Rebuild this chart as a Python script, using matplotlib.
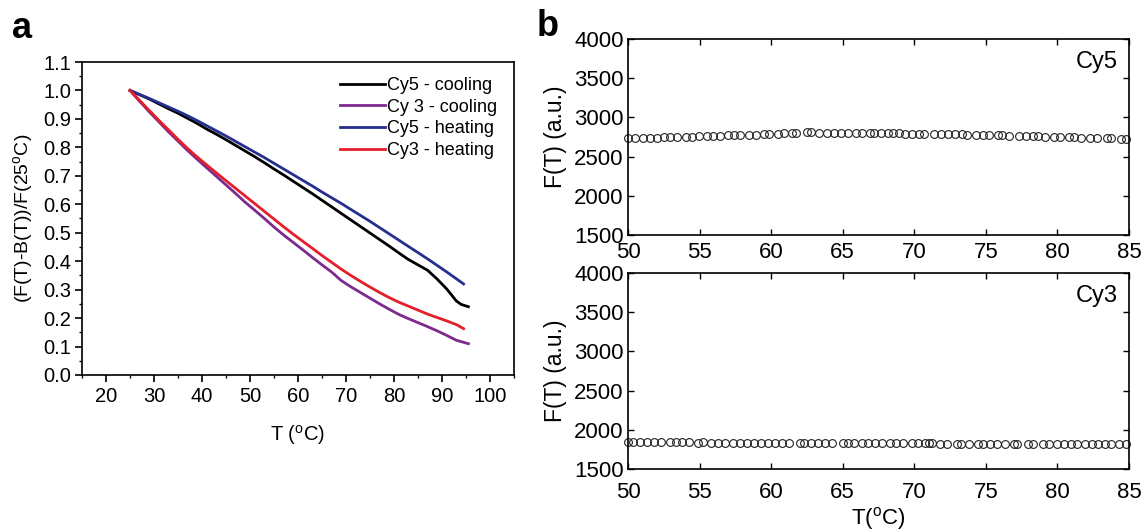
import matplotlib
matplotlib.use("Agg")
import matplotlib.pyplot as plt
from matplotlib.ticker import MultipleLocator, FormatStrFormatter

plt.rcParams['font.family'] = ['Liberation Sans', 'DejaVu Sans']
plt.rcParams['mathtext.fontset'] = 'custom'
plt.rcParams['mathtext.rm'] = 'Liberation Sans'
plt.rcParams['mathtext.it'] = 'Liberation Sans'
plt.rcParams['axes.linewidth'] = 1.2

# ---------------- Panel a data ----------------
cy5_cool_T = [25, 27, 29, 31, 33, 35, 37, 39, 41, 43, 45, 47, 49, 51, 53, 55, 57, 59, 61, 63,
              65, 67, 69, 71, 73, 75, 77, 79, 81, 83, 85, 87, 89, 91, 93, 94, 95.5]
cy5_cool = [1.0, 0.985, 0.97, 0.953, 0.936, 0.92, 0.902, 0.884, 0.864, 0.846, 0.827, 0.807,
            0.787, 0.767, 0.746, 0.724, 0.703, 0.681, 0.659, 0.637, 0.614, 0.591, 0.568, 0.545,
            0.522, 0.499, 0.476, 0.453, 0.429, 0.406, 0.387, 0.368, 0.337, 0.302, 0.26, 0.248, 0.24]

cy3_cool_T = [25, 27, 29, 31, 33, 35, 37, 39, 41, 43, 45, 47, 49, 51, 53, 55, 57, 59, 61, 63,
              65, 67, 69, 71, 73, 75, 77, 79, 81, 83, 85, 87, 89, 91, 93, 95.5]
cy3_cool = [1.0, 0.962, 0.925, 0.89, 0.855, 0.822, 0.789, 0.758, 0.728, 0.698, 0.668, 0.638,
            0.607, 0.579, 0.55, 0.52, 0.492, 0.466, 0.44, 0.413, 0.387, 0.362, 0.332, 0.31,
            0.29, 0.27, 0.25, 0.231, 0.213, 0.198, 0.184, 0.17, 0.155, 0.139, 0.122, 0.11]

cy5_heat_T = [25, 27, 29, 31, 33, 35, 37, 39, 41, 43, 45, 47, 49, 51, 53, 55, 57, 59, 61, 63,
              65, 67, 69, 71, 73, 75, 77, 79, 81, 83, 85, 87, 89, 91, 93, 94.5]
cy5_heat = [1.0, 0.986, 0.972, 0.957, 0.942, 0.927, 0.911, 0.894, 0.876, 0.858, 0.840, 0.821,
            0.802, 0.783, 0.764, 0.744, 0.724, 0.704, 0.684, 0.664, 0.643, 0.623, 0.603, 0.582,
            0.561, 0.540, 0.518, 0.496, 0.474, 0.452, 0.430, 0.408, 0.385, 0.362, 0.338, 0.32]

cy3_heat_T = [25, 27, 29, 31, 33, 35, 37, 39, 41, 43, 45, 47, 49, 51, 53, 55, 57, 59, 61, 63,
              65, 67, 69, 71, 73, 75, 77, 79, 81, 83, 85, 87, 89, 91, 93, 94.5]
cy3_heat = [1.0, 0.965, 0.93, 0.895, 0.862, 0.828, 0.796, 0.766, 0.738, 0.71, 0.683, 0.656,
            0.629, 0.602, 0.575, 0.548, 0.521, 0.495, 0.47, 0.445, 0.42, 0.396, 0.372, 0.35,
            0.329, 0.309, 0.29, 0.272, 0.256, 0.242, 0.228, 0.214, 0.202, 0.19, 0.177, 0.163]

legend_labels = ['Cy5 - cooling', 'Cy 3 - cooling', 'Cy5 - heating', 'Cy3 - heating']
xticks_a = [20, 30, 40, 50, 60, 70, 80, 90, 100]

# ---------------- Panel b data ----------------
cy5_T = [50.00, 50.49, 51.06, 51.57, 52.03, 52.52, 52.93, 53.41, 54.04, 54.50, 54.96, 55.50,
         55.96, 56.45, 57.02, 57.43, 57.80, 58.46, 58.92, 59.51, 59.84, 60.51, 60.92, 61.44,
         61.76, 62.49, 62.76, 63.36, 63.88, 64.42, 64.88, 65.39, 65.96, 66.37, 66.88, 67.21,
         67.67, 68.16, 68.48, 68.94, 69.32, 69.84, 70.33, 70.70, 71.38, 71.90, 72.36, 72.82,
         73.31, 73.71, 74.31, 74.77, 75.23, 75.83, 76.15, 76.59, 77.32, 77.83, 78.27, 78.67,
         79.13, 79.78, 80.16, 80.79, 81.14, 81.65, 82.28, 82.79, 83.47, 83.77, 84.44, 84.77]
cy5_F = [2733, 2735, 2738, 2741, 2743, 2746, 2748, 2750, 2753, 2755, 2757, 2760,
         2763, 2766, 2770, 2772, 2774, 2778, 2781, 2785, 2787, 2792, 2795, 2799,
         2801, 2810, 2808, 2806, 2805, 2805, 2804, 2803, 2802, 2801, 2800, 2799,
         2798, 2797, 2796, 2795, 2794, 2792, 2790, 2789, 2788, 2787, 2786, 2785,
         2783, 2781, 2779, 2777, 2775, 2772, 2771, 2769, 2766, 2763, 2760, 2758,
         2755, 2752, 2750, 2746, 2744, 2741, 2738, 2736, 2733, 2731, 2730, 2729]

cy3_T = [50.00, 50.38, 50.87, 51.30, 51.82, 52.30, 52.90, 53.33, 53.77, 54.25, 54.88, 55.26,
         55.83, 56.29, 56.78, 57.37, 57.83, 58.32, 58.83, 59.30, 59.81, 60.30, 60.79, 61.27,
         62.01, 62.30, 62.79, 63.28, 63.79, 64.28, 65.01, 65.34, 65.80, 66.34, 66.78, 67.26,
         67.75, 68.27, 68.75, 69.24, 69.81, 70.27, 70.76, 71.06, 71.27, 71.79, 72.28, 72.98,
         73.25, 73.79, 74.44, 74.82, 75.31, 75.80, 76.34, 76.94, 77.21, 77.94, 78.29, 78.97,
         79.43, 79.95, 80.43, 80.92, 81.36, 81.90, 82.41, 82.85, 83.33, 83.77, 84.28, 84.80]
cy3_F = [1843, 1842, 1843, 1842, 1842, 1841, 1841, 1840, 1840, 1839, 1838, 1839,
         1838, 1837, 1837, 1836, 1836, 1835, 1835, 1834, 1834, 1834, 1833, 1833,
         1832, 1832, 1831, 1831, 1831, 1830, 1830, 1830, 1829, 1829, 1829, 1828,
         1828, 1828, 1827, 1827, 1827, 1826, 1826, 1826, 1826, 1825, 1825, 1825,
         1824, 1824, 1824, 1824, 1823, 1823, 1823, 1823, 1822, 1822, 1822, 1822,
         1821, 1821, 1821, 1821, 1820, 1820, 1820, 1820, 1819, 1819, 1819, 1819]

xticks_b = [50, 55, 60, 65, 70, 75, 80, 85]
yticks_b = [1500, 2000, 2500, 3000, 3500, 4000]

fig = plt.figure(figsize=(11.48, 5.31), dpi=100)
W, H = 1148.0, 531.0

# ---------------- Panel a ----------------
axa = fig.add_axes([82 / W, 1 - 375 / H, 432 / W, 313 / H])
lw = 2.0
colors = ['black', '#7d2a8e', '#262f8f', '#e3202a']
axa.plot(cy5_cool_T, cy5_cool, color=colors[0], lw=lw, label=legend_labels[0])
axa.plot(cy3_cool_T, cy3_cool, color=colors[1], lw=lw, label=legend_labels[1])
axa.plot(cy5_heat_T, cy5_heat, color=colors[2], lw=lw, label=legend_labels[2])
axa.plot(cy3_heat_T, cy3_heat, color=colors[3], lw=lw, label=legend_labels[3])
axa.set_xlim(15, 105)
axa.set_ylim(0, 1.1)
axa.set_xticks(xticks_a)
axa.xaxis.set_minor_locator(MultipleLocator(5))
axa.yaxis.set_major_locator(MultipleLocator(0.1))
axa.yaxis.set_minor_locator(MultipleLocator(0.05))
axa.yaxis.set_major_formatter(FormatStrFormatter('%.1f'))
axa.tick_params(which='major', direction='out', length=5, width=1.2, labelsize=14.5,
                colors='black', pad=3)
axa.tick_params(which='minor', direction='out', length=2.5, width=1.0)
axa.tick_params(axis='x', which='major', pad=4)
axa.tick_params(top=False, right=False)
axa.set_xlabel('T ($^{\\mathrm{o}}$C)', fontsize=14.5, labelpad=12)
axa.set_ylabel('(F(T)-B(T))/F(25$^{\\mathrm{o}}$C)', fontsize=14, labelpad=6)
leg = axa.legend(loc='upper right', bbox_to_anchor=((497 - 82) / 432, (375 - 77) / 313),
                 frameon=False, fontsize=13, handlelength=2.5, handletextpad=0.1,
                 labelspacing=0.26, borderpad=0, borderaxespad=0)

fig.text(12 / W, 1 - 38 / H, 'a', fontsize=26, fontweight='bold', ha='left', va='baseline')

# ---------------- Panel b ----------------
def style_b(ax, xpad):
    ax.set_xlim(50, 85)
    ax.set_ylim(1500, 4000)
    ax.set_xticks(xticks_b)
    ax.set_yticks(yticks_b)
    ax.tick_params(direction='in', length=4.5, width=1.0, labelsize=16, top=True, right=True,
                   pad=3, colors='black')
    ax.tick_params(axis='x', pad=xpad)
    ax.set_ylabel('F(T) (a.u.)', fontsize=16.5, labelpad=5)
    for s in ax.spines.values():
        s.set_linewidth(1.2)

axb1 = fig.add_axes([628 / W, 1 - 235 / H, 501 / W, 196 / H])
axb1.plot(cy5_T, cy5_F, linestyle='none', marker='o', markersize=5.6, markerfacecolor='none',
          markeredgecolor='#222222', markeredgewidth=0.8, clip_on=False)
style_b(axb1, 5)
axb1.text(0.978, 0.94, 'Cy5', transform=axb1.transAxes, ha='right', va='top', fontsize=17)

axb2 = fig.add_axes([628 / W, 1 - 469 / H, 501 / W, 196 / H])
axb2.plot(cy3_T, cy3_F, linestyle='none', marker='o', markersize=5.6, markerfacecolor='none',
          markeredgecolor='#222222', markeredgewidth=0.8, clip_on=False)
style_b(axb2, 9)
axb2.text(0.978, 0.94, 'Cy3', transform=axb2.transAxes, ha='right', va='top', fontsize=17)
axb2.set_xlabel('T($^{\\mathrm{o}}$C)', fontsize=16, labelpad=2)

fig.text(537 / W, 1 - 36 / H, 'b', fontsize=26, fontweight='bold', ha='left', va='baseline')

fig.savefig('out.png', dpi=100)
